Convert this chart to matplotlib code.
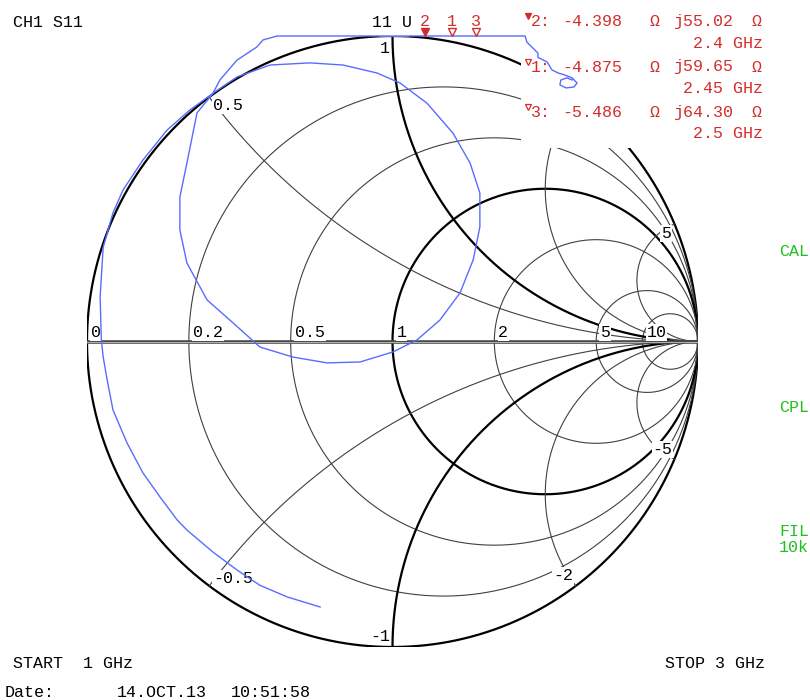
import matplotlib
matplotlib.use("Agg")
import matplotlib.pyplot as plt
import matplotlib.transforms as mtransforms
from matplotlib.patches import Rectangle
import numpy as np

# S11 sweep 1 GHz -> 3 GHz, reflection coefficient (real, imag)
s11_re = [-0.237, -0.345, -0.434, -0.509, -0.588, -0.673, -0.705, -0.761, -0.817, -0.869,
          -0.915, -0.934, -0.947, -0.953, -0.957, -0.947, -0.915, -0.882, -0.817, -0.738,
          -0.663, -0.588,
          -0.509, -0.401, -0.270, -0.162, -0.051, 0.025, 0.113, 0.198, 0.254, 0.286,
          0.286, 0.264, 0.221, 0.155, 0.080, 0.002, -0.106, -0.214, -0.326, -0.434,
          -0.522, -0.607, -0.673, -0.696, -0.696, -0.673, -0.640, -0.588,
          -0.565, -0.509, -0.444, -0.424, -0.378, -0.33, -0.20, -0.05, 0.107, 0.193,
          0.272, 0.36, 0.434,
          0.440, 0.460, 0.476, 0.476, 0.506, 0.522, 0.542, 0.565, 0.588, 0.604,
          0.594, 0.568, 0.548, 0.551, 0.571, 0.588]
s11_im = [-0.869, -0.836, -0.798, -0.748, -0.689, -0.617, -0.584, -0.509, -0.430, -0.332,
          -0.224, -0.126, -0.051, 0.005, 0.146, 0.309, 0.421, 0.496, 0.594, 0.692,
          0.758, 0.812,
          0.866, 0.905, 0.912, 0.905, 0.879, 0.846, 0.780, 0.682, 0.584, 0.486,
          0.375, 0.267, 0.159, 0.070, 0.005, -0.034, -0.067, -0.070, -0.051, -0.018,
          0.061, 0.136, 0.257, 0.365, 0.473, 0.584, 0.748, 0.812,
          0.856, 0.921, 0.964, 0.987, 1.0, 1.03, 1.06, 1.08, 1.078, 1.066,
          1.051, 1.03, 1.0,
          0.980, 0.960, 0.944, 0.930, 0.915, 0.889, 0.879, 0.872, 0.863, 0.846,
          0.833, 0.830, 0.840, 0.856, 0.863, 0.856]

# Smith grid (normalised resistance circles / reactance arcs)
r_values = [0, 0.2, 0.5, 1, 2, 5, 10]
x_values = [0.5, 1, 2, 5]

# markers
mkr_num = [1, 2, 3]
mkr_freq_ghz = [2.45, 2.4, 2.5]
mkr_r_ohm = [-4.875, -4.398, -5.486]
mkr_x_ohm = [59.65, 55.02, 64.30]
active_mkr = 2
z0 = 50.0

W, H = 810, 700
CX, CY, RAD = 392.5, 341.5, 305.5

BLACK = "#000000"
GRID = "#404040"
BLUE = "#5a6cff"
RED = "#d42c2c"
GREEN = "#20c020"
MONO = ["Liberation Mono", "DejaVu Sans Mono", "DejaVu Sans"]
FS = 12


def gx(px):
    return (px - CX) / RAD


def gy(py):
    return (CY - py) / RAD


fig = plt.figure(figsize=(W / 100, H / 100), dpi=100)
fig.patch.set_facecolor("white")
ax = fig.add_axes([(CX - RAD) / W, (H - CY - RAD) / H, 2 * RAD / W, 2 * RAD / H])
ax.set_xlim(-1, 1)
ax.set_ylim(-1, 1)
ax.axis("off")


def txt(px, py, s, color=BLACK, ha="left", size=FS, z=5):
    ax.text(gx(px), gy(py), s, color=color, ha=ha, va="baseline", fontsize=size,
            family=MONO, zorder=z, clip_on=False)


# resistance circles
t = np.linspace(0, 2 * np.pi, 1441)
for r in r_values:
    c, rho = r / (1 + r), 1 / (1 + r)
    bold = r in (0, 1)
    ax.plot(c + rho * np.cos(t), rho * np.sin(t), color=BLACK if bold else GRID,
            lw=1.6 if bold else 0.8, zorder=1)

# reactance arcs
s = np.concatenate([np.linspace(0, 3, 400), np.geomspace(3, 1e4, 400)])
for x in x_values:
    for sign in (1, -1):
        g = (s + 1j * sign * x - 1) / (s + 1j * sign * x + 1)
        bold = x == 1
        ax.plot(g.real, g.imag, color=BLACK if bold else GRID,
                lw=1.6 if bold else 0.8, zorder=1)

# real axis, drawn as a double line
ax.plot([-1, 1], [0, 0], color="#4a4a4a", lw=2.6, zorder=1)
ax.plot([-1, 1], [0, 0], color="#c4c4c4", lw=0.6, zorder=1)

# small grey highlights at the top and bottom of the rim
ax.plot([gx(380), gx(407)], [gy(35), gy(35)], color="#9a9a9a", lw=2, zorder=1.5)
ax.plot([gx(382), gx(403)], [gy(648), gy(648)], color="#9a9a9a", lw=2, zorder=1.5)

# resistance labels on the axis
box = dict(facecolor="white", edgecolor="none", pad=0.6)
for r in r_values:
    ax.annotate(f"{r:g}", ((r - 1) / (r + 1), 0), xytext=(4, 4.5),
                textcoords="offset pixels", ha="left", va="baseline", fontsize=FS,
                family=MONO, zorder=2, bbox=box)

# reactance labels, nudged inside the rim
x_off = {0.5: (4, 13), 1: (-12.5, 17), 2: (-12, 14), 5: (-13.5, 14),
         -0.5: (4, -3), -1: (-22, -6), -2: (-23, -6), -5: (-22, -5)}
for x in x_values:
    for sign in (1, -1):
        xv = sign * x
        g = (1j * xv - 1) / (1j * xv + 1)
        dx, dy = x_off[xv]
        ax.annotate(f"{xv:g}", (g.real, g.imag), xytext=(dx, -dy),
                    textcoords="offset pixels", ha="left", va="baseline", fontsize=FS,
                    family=MONO, zorder=2, bbox=box)

# blank area behind the marker readout
ax.add_patch(Rectangle((521 / W, 1 - 148 / H), 1 - 521 / W, 148 / H,
                       transform=fig.transFigure, facecolor="white", edgecolor="none",
                       zorder=2.5, clip_on=False))

# trace, pinned to the chart frame like the analyser does
tr_re = np.clip(np.array(s11_re), -1, 1)
tr_im = np.clip(np.array(s11_im), -1, 1)
ax.plot(tr_re, tr_im, color=BLUE, lw=1.0, zorder=3, clip_on=False)

# marker flags along the top edge
tri_tf = mtransforms.offset_copy(ax.transData, fig=fig, x=0, y=4.5, units="dots")
num_tf = mtransforms.offset_copy(ax.transData, fig=fig, x=0, y=10, units="dots")
for m, rr, xx in zip(mkr_num, mkr_r_ohm, mkr_x_ohm):
    z = rr + 1j * xx
    g = (z - z0) / (z + z0)
    mx, my = np.clip(g.real, -1, 1), np.clip(g.imag, -1, 1)
    ax.plot(mx, my, marker="v", ms=6, mec=RED, mew=1.0,
            mfc=RED if m == active_mkr else "white", transform=tri_tf,
            zorder=5, clip_on=False)
    ax.text(mx, my, str(m), color=RED, ha="center", va="baseline", fontsize=FS,
            family=MONO, transform=num_tf, zorder=5, clip_on=False)

# marker readout, active marker first
order = [active_mkr] + [m for m in mkr_num if m != active_mkr]
for k, m in enumerate(order):
    i = mkr_num.index(m)
    y0 = 26 + 45.5 * k
    ax.plot(gx(527.5), gy(y0 - 10), marker="v", ms=5, mec=RED, mew=0.9,
            mfc=RED if m == active_mkr else "white", zorder=5, clip_on=False)
    txt(541, y0, f"{m}:", RED, ha="center")
    txt(592.5, y0, f"{mkr_r_ohm[i]:.3f}", RED, ha="center")
    txt(654, y0, "Ω", RED, ha="center")
    txt(703.5, y0, f"j{mkr_x_ohm[i]:.2f}", RED, ha="center")
    txt(757, y0, "Ω", RED, ha="center")
    txt(763, y0 + 21.5, f"{mkr_freq_ghz[i]:g} GHz", RED, ha="right")

# header / footer annotations
txt(13, 27, "CH1 S11")
txt(372, 27, "11 U")
txt(779, 256, "CAL", GREEN)
txt(779, 412, "CPL", GREEN)
txt(779, 536, "FIL", GREEN)
txt(779, 552, "10k", GREEN)
txt(13, 668, "START  1 GHz")
txt(765, 668, "STOP 3 GHz", ha="right")
txt(5, 697, "Date:")
txt(117, 697, "14.OCT.13")
txt(231, 697, "10:51:58")

fig.savefig("out.png", dpi=100, facecolor="white")
